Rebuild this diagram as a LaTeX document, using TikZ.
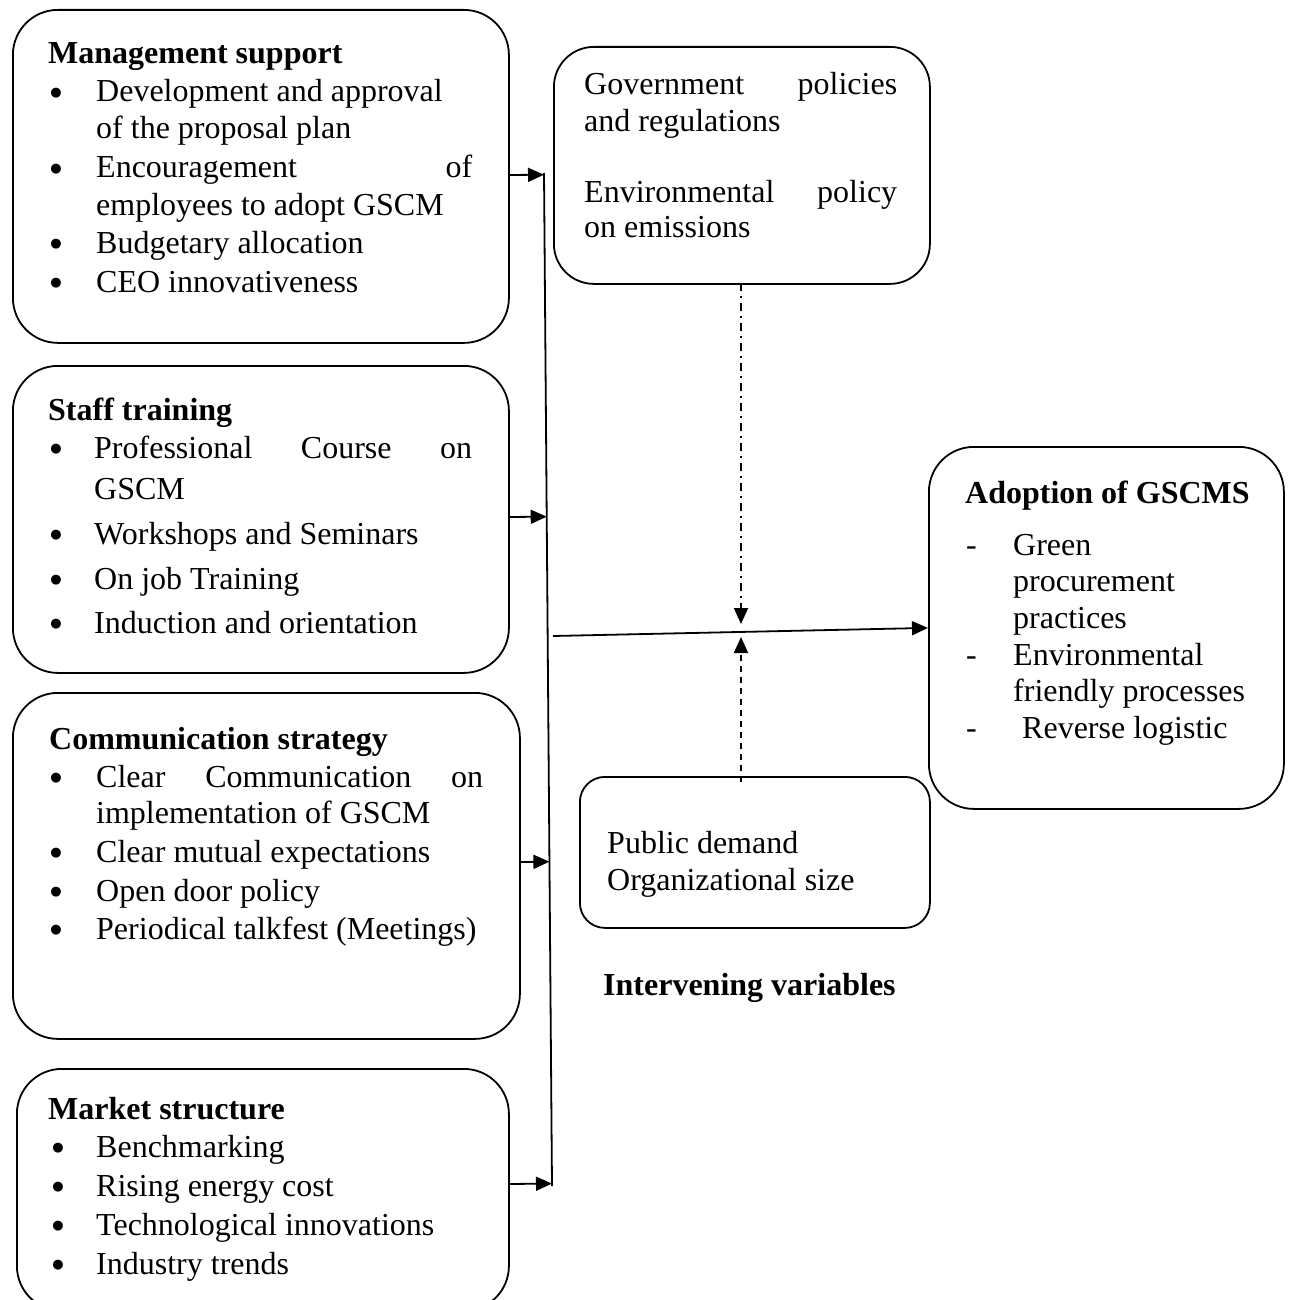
\documentclass[tikz,border=0pt]{standalone}
\usepackage{fontspec}
\setmainfont{Liberation Serif}
\newfontfamily\symfont{DejaVu Sans}
\usetikzlibrary{arrows.meta,calc}
\begin{document}
\begin{tikzpicture}[x=1pt,y=-1pt,
  box/.style={draw, line width=1.8pt, rounded corners=#1, inner sep=0pt, anchor=north west},
  txt/.style={inner sep=0pt, anchor=base west, font=\fontsize{32}{37}\selectfont},
  bul/.style={inner sep=0pt, anchor=center, font=\symfont\fontsize{13}{14}\selectfont},
  arr/.style={line width=1.8pt, -{Triangle[length=16pt,width=14pt]}},
  plain/.style={line width=1.8pt},
  dashdotline/.style={line width=1.8pt, dash pattern=on 8pt off 5pt on 2pt off 5pt, -{Triangle[length=16pt,width=14pt]}},
  dashline/.style={line width=1.8pt, dash pattern=on 6pt off 5pt, -{Triangle[length=16pt,width=14pt]}}
]
\clip (0,0) rectangle (1288,1300);

% boxes
\node[box=45pt, minimum width=496pt, minimum height=333pt] (mgmt) at (12,9) {};
\node[box=45pt, minimum width=496pt, minimum height=307pt] (staff) at (12,365) {};
\node[box=45pt, minimum width=507pt, minimum height=346pt] (comm) at (12,692) {};
\node[box=45pt, minimum width=492pt, minimum height=242pt] (market) at (16,1068) {};
\node[box=40pt, minimum width=376pt, minimum height=237pt] (gov) at (553,46) {};
\node[box=25pt, minimum width=350pt, minimum height=151pt] (pub) at (579,776) {};
\node[box=45pt, minimum width=355pt, minimum height=362pt] (adopt) at (928,446) {};

% management support
\node[txt] (m0) at (48,64) {\textbf{Management support}};
\node[txt] (m1) at (96,102) {Development and approval};
\node[txt] (m2) at (96,139) {of the proposal plan};
\node[txt] (m3) at (96,178) {\makebox[376pt][s]{Encouragement of}};
\node[txt] (m4) at (96,215) {employees to adopt GSCM};
\node[txt] (m5) at (96,253) {Budgetary allocation};
\node[txt] (m6) at (96,292) {CEO innovativeness};
\foreach \y [count=\i] in {102,178,253,292} \node[bul] (mb\i) at (56,\y-9) {●};

% staff training
\node[txt] (s0) at (48,420) {\textbf{Staff training}};
\node[txt] (s1) at (94,458) {\makebox[378pt][s]{Professional Course on}};
\node[txt] (s2) at (94,499) {GSCM};
\node[txt] (s3) at (94,544) {Workshops and Seminars};
\node[txt] (s4) at (94,589) {On job Training};
\node[txt] (s5) at (94,633) {Induction and orientation};
\foreach \y [count=\i] in {458,544,589,633} \node[bul] (sb\i) at (56,\y-9) {●};

% communication strategy
\node[txt] (c0) at (49,749) {\textbf{Communication strategy}};
\node[txt] (c1) at (96,787) {\makebox[387pt][s]{Clear Communication on}};
\node[txt] (c2) at (96,823) {implementation of GSCM};
\node[txt] (c3) at (96,862) {Clear mutual expectations};
\node[txt] (c4) at (96,901) {Open door policy};
\node[txt] (c5) at (96,939) {Periodical talkfest (Meetings)};
\foreach \y [count=\i] in {787,862,901,939} \node[bul] (cb\i) at (56,\y-9) {●};

% market structure
\node[txt] (k0) at (48,1119) {\textbf{Market structure}};
\node[txt] (k1) at (96,1157) {Benchmarking};
\node[txt] (k2) at (96,1196) {Rising energy cost};
\node[txt] (k3) at (96,1235) {Technological innovations};
\node[txt] (k4) at (96,1274) {Industry trends};
\foreach \y [count=\i] in {1157,1196,1235,1274} \node[bul] (kb\i) at (58,\y-9) {●};

% government
\node[txt] (g1) at (584,95) {\makebox[313pt][s]{Government policies}};
\node[txt] (g2) at (584,132) {and regulations};
\node[txt] (g3) at (584,202) {\makebox[313pt][s]{Environmental policy}};
\node[txt] (g4) at (584,237) {on emissions};

% public demand
\node[txt] (p1) at (607,853) {Public demand};
\node[txt] (p2) at (607,890) {Organizational size};

% adoption
\node[txt] (a0) at (965,503) {\textbf{Adoption of GSCMS}};
\node[txt] (a1) at (1013,555) {Green};
\node[txt] (a2) at (1013,591) {procurement};
\node[txt] (a3) at (1013,628) {practices};
\node[txt] (a4) at (1013,665) {Environmental};
\node[txt] (a5) at (1013,701) {friendly processes};
\node[txt] (a6) at (1022,738) {Reverse logistic};
\foreach \y [count=\i] in {555,665,738} \node[txt] (ad\i) at (966,\y) {-};

% intervening
\node[txt] (iv) at (603,995) {\textbf{Intervening variables}};

% connectors
\coordinate (vt) at (544,173);
\coordinate (vb) at (552,1186);
\draw[plain] (vt) -- (vb);
\coordinate (mo) at (508,175);
\coordinate (so) at (508,517);
\coordinate (co) at (519,862);
\coordinate (ko) at (508,1184);
\draw[arr] (mo) -- ($(vt)!(mo)!(vb)$);
\draw[arr] (so) -- ($(vt)!(so)!(vb)$);
\draw[arr] (co) -- ($(vt)!(co)!(vb)$);
\draw[arr] (ko) -- ($(vt)!(ko)!(vb)$);

\coordinate (hs) at (553,636);
\draw[arr] (hs) -- (adopt.west);

\coordinate (gd) at (741,283);
\coordinate (gt) at (741,624);
\draw[dashdotline] (gd) -- (gt);
\coordinate (pu) at (741,782);
\coordinate (pt) at (741,637);
\draw[dashline] (pu) -- (pt);
\end{tikzpicture}
\end{document}
